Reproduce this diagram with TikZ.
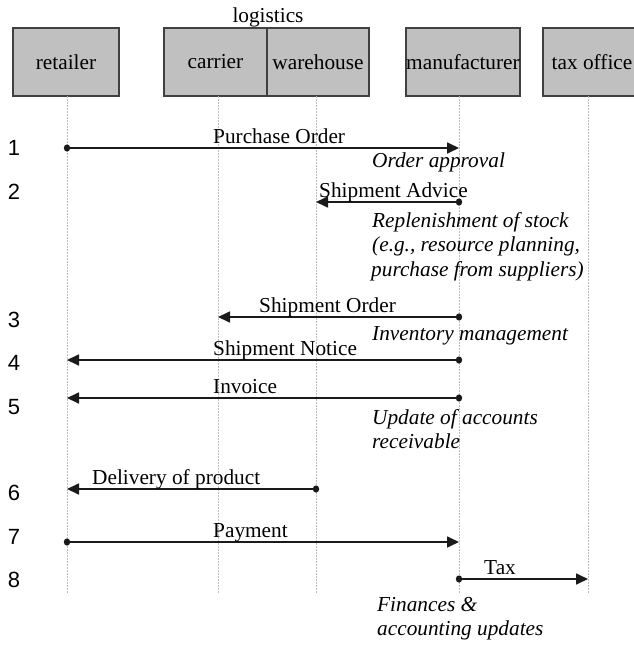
\documentclass[tikz,border=0pt]{standalone}
\usepackage{fontspec}
\setmainfont{Liberation Serif}
\newfontfamily\numfont{Liberation Sans}
\usetikzlibrary{arrows.meta}
\definecolor{boxfill}{HTML}{C0C0C0}
\definecolor{boxborder}{HTML}{404040}
\definecolor{lifegray}{HTML}{BDBDBD}
\definecolor{msgcol}{HTML}{1A1A1A}
\begin{document}
\begin{tikzpicture}[x=1pt,y=-1pt,
  txt/.style={inner sep=0pt, font=\fontsize{21.3}{25}\selectfont},
  box/.style={draw=boxborder, fill=boxfill, line width=1.5pt, inner sep=0pt,
    minimum height=68pt, font=\fontsize{21.3}{25}\selectfont},
  lifeline/.style={draw=lifegray, line width=0.9pt, dash pattern=on 1.5pt off 1.5pt},
  msg/.style={draw=msgcol, line width=1.7pt, -{Triangle[length=12pt,width=11pt]}},
  dotend/.style={fill=msgcol},
  lbl/.style={txt, anchor=base west},
  note/.style={inner sep=0pt, anchor=base west, font=\fontsize{21.3}{25}\selectfont\itshape},
  num/.style={inner sep=0pt, font=\fontsize{22}{26}\numfont}
]
\useasboundingbox (0,0) rectangle (634,645);
\begin{scope}
\clip (0,0) rectangle (634,645);
% participants
\node[box, minimum width=106pt] (retailer) at (66,62) {retailer};
\node[box, minimum width=103pt] (carrier) at (215.5,62) {carrier};
\node[box, minimum width=102pt] (warehouse) at (318,62) {warehouse};
\node[box, minimum width=114pt] (manufacturer) at (463,62) {manufacturer};
\node[box, minimum width=98pt] (taxoffice) at (592,62) {tax office};
\node[txt, anchor=base] (logistics) at (268,23) {logistics};

% lifelines
\coordinate (rT) at (67,96);   \coordinate (rB) at (67,593);
\coordinate (cT) at (218,96);  \coordinate (cB) at (218,593);
\coordinate (wT) at (316,96);  \coordinate (wB) at (316,593);
\coordinate (mT) at (459,96);  \coordinate (mB) at (459,593);
\coordinate (tT) at (588,96);  \coordinate (tB) at (588,593);
\draw[lifeline] (rT) -- (rB);
\draw[lifeline] (cT) -- (cB);
\draw[lifeline] (wT) -- (wB);
\draw[lifeline] (mT) -- (mB);
\draw[lifeline] (tT) -- (tB);

% message end points
\coordinate (a1) at (67,148);  \coordinate (b1) at (459,148);
\coordinate (a2) at (459,202); \coordinate (b2) at (316,202);
\coordinate (a3) at (459,317); \coordinate (b3) at (218,317);
\coordinate (a4) at (459,360); \coordinate (b4) at (67,360);
\coordinate (a5) at (459,398); \coordinate (b5) at (67,398);
\coordinate (a6) at (316,489); \coordinate (b6) at (67,489);
\coordinate (a7) at (67,542);  \coordinate (b7) at (459,542);
\coordinate (a8) at (459,579); \coordinate (b8) at (588,579);

\foreach \i in {1,...,8}{
  \draw[msg] (a\i) -- (b\i);
  \fill[dotend] (a\i) circle[x radius=3.2pt, y radius=3.6pt];
}

% message labels
\node[lbl] (l1) at (213,143) {Purchase Order};
\node[lbl] (l2) at (319,197) {Shipment Advice};
\node[lbl] (l3) at (259,312) {Shipment Order};
\node[lbl] (l4) at (213,355) {Shipment Notice};
\node[lbl] (l5) at (213,393) {Invoice};
\node[lbl] (l6) at (92,484) {Delivery of product};
\node[lbl] (l7) at (213,537) {Payment};
\node[lbl] (l8) at (484,574) {Tax};

% notes
\node[note] (n1) at (372,167) {Order approval};
\node[note] (n2a) at (372,227) {Replenishment of stock};
\node[note] (n2b) at (372,251) {(e.g., resource planning,};
\node[note] (n2c) at (371,276) {purchase from suppliers)};
\node[note] (n3) at (372,340) {Inventory management};
\node[note] (n5a) at (372,424) {Update of accounts};
\node[note] (n5b) at (372,448) {receivable};
\node[note] (n8a) at (377,611) {Finances \&};
\node[note] (n8b) at (377,635) {accounting updates};

% step numbers
\node[num] (s1) at (14,148) {1};
\node[num] (s2) at (14,192) {2};
\node[num] (s3) at (14,320) {3};
\node[num] (s4) at (14,363) {4};
\node[num] (s5) at (14,407) {5};
\node[num] (s6) at (14,493) {6};
\node[num] (s7) at (14,537) {7};
\node[num] (s8) at (14,580) {8};
\end{scope}
\end{tikzpicture}
\end{document}
